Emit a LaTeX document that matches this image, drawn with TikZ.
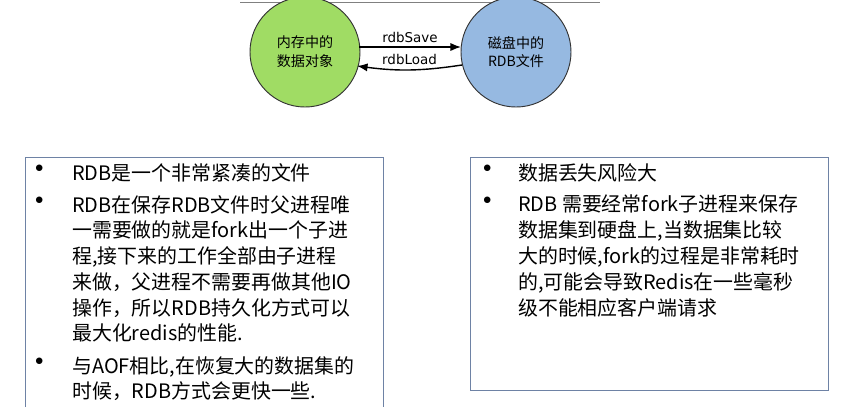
\documentclass[tikz,border=0pt]{standalone}
\usepackage{fontspec}
\newfontfamily\cjk{Noto Sans CJK SC}
\newfontfamily\dvs{DejaVu Sans}
\usetikzlibrary{arrows.meta}
\tikzset{
  store/.style={circle, draw=black!80, line width=0.8pt, minimum size=3.3cm, align=center, font=\cjk\fontsize{12}{16}\selectfont},
  flow/.style={-{Latex[length=9pt,width=7pt]}, line width=1.2pt},
  panel/.style={draw={rgb,255:red,110;green,130;blue,165}, line width=0.6pt},
  item/.style={anchor=north west, align=left, inner sep=0pt, font=\cjk\fontsize{17}{22}\selectfont},
  dot/.style={anchor=north west, inner sep=0pt, font=\fontsize{14}{22}\selectfont}
}
\begin{document}
\begin{tikzpicture}[x=0.03cm, y=-0.03cm]
  \useasboundingbox (0,0) rectangle (862,407);

  % Top rule
  \draw[gray, line width=0.6pt] (240,2) -- (600,2);

  % Stores
  \node[store, fill={rgb,255:red,160;green,220;blue,100}] (mem) at (305,52) {内存中的\\数据对象};
  \node[store, fill={rgb,255:red,150;green,185;blue,225}] (disk) at (516,52) {磁盘中的\\RDB文件};

  % Arrows
  \coordinate (s0) at (359,47);
  \coordinate (s1) at (461,47);
  \coordinate (l0) at (462,65);
  \coordinate (l1) at (357,66);
  \draw[flow] (s0) -- node[above, font=\dvs\fontsize{11.5}{12}\selectfont] {rdbSave} (s1);
  \draw[flow] (l0) to[bend left=8] node[above, font=\dvs\fontsize{11.5}{12}\selectfont] {rdbLoad} (l1);

  % Panels
  \draw[panel] (25,407) -- (25,157) -- (383,157) -- (383,407);
  \draw[panel] (470,157) rectangle (828,390);

  % Left list
  \node[dot] (b1) at (35,165) {$\bullet$};
  \node[item] (t1) at (72,163) {RDB是一个非常紧凑的文件};
  \node[dot] (b2) at (35,197) {$\bullet$};
  \node[item] (t2) at (72,195) {RDB在保存RDB文件时父进程唯\\一需要做的就是fork出一个子进\\程,接下来的工作全部由子进程\\来做，父进程不需要再做其他IO\\操作，所以RDB持久化方式可以\\最大化redis的性能.};
  \node[dot] (b3) at (35,358) {$\bullet$};
  \node[item] (t3) at (72,356) {与AOF相比,在恢复大的数据集的\\时候，RDB方式会更快一些.};

  % Right list
  \node[dot] (c1) at (483,165) {$\bullet$};
  \node[item] (r1) at (518,163) {数据丢失风险大};
  \node[dot] (c2) at (483,197) {$\bullet$};
  \node[item] (r2) at (518,195) {RDB 需要经常fork子进程来保存\\数据集到硬盘上,当数据集比较\\大的时候,fork的过程是非常耗时\\的,可能会导致Redis在一些毫秒\\级不能相应客户端请求};
\end{tikzpicture}
\end{document}
